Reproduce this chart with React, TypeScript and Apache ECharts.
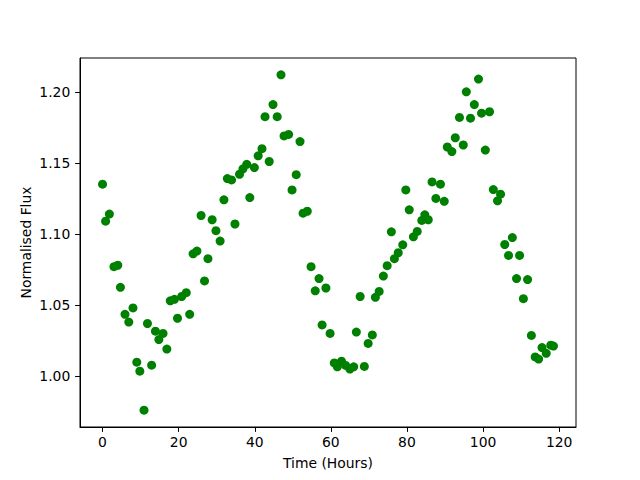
import React, { useEffect, useRef } from "react";
import * as echarts from "echarts";

const timeHours: number[] = [
  0, 0.8, 1.8, 3.0, 4.0, 4.7, 5.9, 6.9, 8.0, 9.0,
  9.8, 10.9, 11.8, 12.9, 13.9, 14.8, 15.9, 16.9, 17.8, 18.9,
  19.7, 20.8, 22.0, 22.9, 23.8, 24.8, 25.9, 26.8, 27.7, 28.8,
  29.8, 30.9, 31.9, 32.8, 33.9, 34.8, 36.0, 36.9, 37.9, 38.7,
  39.9, 40.9, 41.9, 42.7, 43.8, 44.8, 45.9, 46.9, 47.7, 48.9,
  49.8, 50.9, 51.9, 52.7, 53.8, 54.8, 55.9, 56.9, 57.7, 58.7,
  59.8, 60.9, 61.7, 62.8, 63.9, 65.0, 66.0, 66.7, 67.7, 68.8,
  69.8, 70.9, 71.7, 72.7, 73.8, 74.8, 75.9, 76.7, 77.7, 78.9,
  79.7, 80.6, 81.7, 82.7, 83.9, 84.7, 85.6, 86.6, 87.6, 88.8,
  89.8, 90.6, 91.8, 92.7, 93.8, 94.8, 95.6, 96.7, 97.7, 98.8,
  99.6, 100.6, 101.7, 102.7, 103.8, 104.6, 105.7, 106.7, 107.7, 108.8,
  109.6, 110.6, 111.7, 112.7, 113.7, 114.6, 115.5, 116.6, 117.8, 118.5,
];

const normalisedFlux: number[] = [
  1.135, 1.109, 1.114, 1.077, 1.078, 1.0625, 1.0435, 1.038, 1.048, 1.0098,
  1.0035, 0.976, 1.037, 1.0077, 1.0316, 1.0257, 1.03, 1.019, 1.053, 1.054,
  1.0407, 1.056, 1.0587, 1.0435, 1.086, 1.088, 1.113, 1.067, 1.0826, 1.11,
  1.1023, 1.095, 1.124, 1.139, 1.138, 1.107, 1.142, 1.1458, 1.149, 1.1256,
  1.1467, 1.155, 1.16, 1.1825, 1.151, 1.191, 1.1825, 1.212, 1.169, 1.17,
  1.131, 1.1417, 1.165, 1.1146, 1.116, 1.077, 1.06, 1.0686, 1.036, 1.062,
  1.03, 1.0093, 1.0065, 1.0105, 1.0075, 1.005, 1.0065, 1.031, 1.056, 1.0068,
  1.023, 1.029, 1.0554, 1.0596, 1.0704, 1.0777, 1.1015, 1.0826, 1.0868, 1.0924,
  1.131, 1.117, 1.098, 1.1018, 1.1095, 1.1135, 1.11, 1.1366, 1.125, 1.135,
  1.123, 1.1612, 1.158, 1.1677, 1.182, 1.1626, 1.2, 1.1815, 1.191, 1.209,
  1.185, 1.159, 1.186, 1.1312, 1.1233, 1.128, 1.0926, 1.0849, 1.0975, 1.0686,
  1.0849, 1.0545, 1.0679, 1.0286, 1.0135, 1.012, 1.0201, 1.016, 1.0218, 1.0211,
];

const xTicks: number[] = [0, 20, 40, 60, 80, 100, 120];
const yTicks: number[] = [1.0, 1.05, 1.1, 1.15, 1.2];

export default function App() {
  const ref = useRef<HTMLDivElement>(null);
  useEffect(() => {
    if (!ref.current) return;
    const chart = echarts.init(ref.current, null, { renderer: "svg" });
    const data = timeHours.map((t, i) => [t, normalisedFlux[i]]);
    const xMinD = Math.min(...timeHours);
    const xMaxD = Math.max(...timeHours);
    const yMinD = Math.min(...normalisedFlux);
    const yMaxD = Math.max(...normalisedFlux);
    const xm = (xMaxD - xMinD) * 0.05;
    const ym = (yMaxD - yMinD) * 0.05;
    const font = "DejaVu Sans";
    const fs = 13.9;
    chart.setOption({
      animation: false,
      backgroundColor: "#ffffff",
      grid: {
        left: 80,
        right: 64,
        top: 58,
        bottom: 53,
        show: true,
        borderColor: "#000000",
        borderWidth: 1,
        backgroundColor: "transparent",
      },
      xAxis: {
        type: "value",
        min: xMinD - xm,
        max: xMaxD + xm,
        name: "Time (Hours)",
        nameLocation: "middle",
        nameGap: 29,
        nameMoveOverlap: false,
        nameTextStyle: { color: "#000", fontFamily: font, fontSize: fs },
        axisLine: { show: true, onZero: false, lineStyle: { color: "#000", width: 1 } },
        axisTick: { show: true, length: 4.9, customValues: xTicks, lineStyle: { color: "#000" } },
        axisLabel: {
          customValues: xTicks,
          color: "#000",
          fontFamily: font,
          fontSize: fs,
          margin: 8,
          formatter: (v: number) => String(Math.round(v)),
        },
        splitLine: { show: false },
      },
      yAxis: {
        type: "value",
        min: yMinD - ym,
        max: yMaxD + ym,
        name: "Normalised Flux",
        nameLocation: "middle",
        nameGap: 47,
        nameRotate: 90,
        nameMoveOverlap: false,
        nameTextStyle: { color: "#000", fontFamily: font, fontSize: fs },
        axisLine: { show: true, onZero: false, lineStyle: { color: "#000", width: 1 } },
        axisTick: { show: true, length: 4.9, customValues: yTicks, lineStyle: { color: "#000" } },
        axisLabel: {
          customValues: yTicks,
          color: "#000",
          fontFamily: font,
          fontSize: fs,
          margin: 9.7,
          formatter: (v: number) => v.toFixed(2),
        },
        splitLine: { show: false },
      },
      series: [
        {
          type: "scatter",
          data,
          symbol: "circle",
          symbolSize: 9,
          itemStyle: { color: "#008000", opacity: 1 },
        },
      ],
    });
    return () => chart.dispose();
  }, []);
  return <div ref={ref} style={{ width: 640, height: 480, position: "absolute", left: 0, top: 0 }} />;
}
